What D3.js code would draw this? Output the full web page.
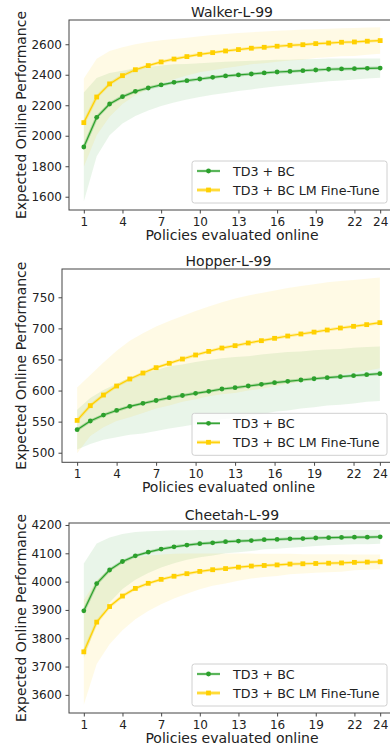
<!DOCTYPE html>
<html>
<head>
<meta charset="utf-8">
<script src="https://cdn.jsdelivr.net/npm/d3@7"></script>
<style>
  body { margin: 0; background: #fff; }
  svg { display: block; font-family: "DejaVu Sans", sans-serif; }
</style>
</head>
<body>
<div id="chart"></div>
<script>
// x categories and ticks
const policies = [1, 2, 3, 4, 5, 6, 7, 8, 9, 10, 11, 12, 13, 14, 15, 16, 17, 18, 19, 20, 21, 22, 23, 24]
const xTicks = [1, 4, 7, 10, 13, 16, 19, 22, 24]
const seriesNames = ['TD3 + BC', 'TD3 + BC LM Fine-Tune']

// Walker-L-99
const walkerYTicks = [1600, 1800, 2000, 2200, 2400, 2600]
const walkerYDomain = [1513, 2759]
const walkerTd3 = [1926, 2121, 2208, 2256, 2291, 2313, 2333, 2350, 2361, 2372, 2383, 2392, 2399, 2405, 2412, 2418, 2422, 2427, 2431, 2436, 2438, 2440, 2442, 2444]
const walkerTd3Lo = [1568, 1866, 2003, 2080, 2130, 2166, 2195, 2218, 2237, 2254, 2268, 2281, 2293, 2304, 2314, 2324, 2333, 2341, 2349, 2357, 2363, 2369, 2375, 2381]
const walkerTd3Hi = [2284, 2379, 2411, 2426, 2443, 2451, 2460, 2468, 2471, 2476, 2481, 2486, 2489, 2491, 2495, 2498, 2499, 2501, 2503, 2506, 2506, 2506, 2506, 2507]
const walkerLm = [2086, 2254, 2340, 2394, 2433, 2460, 2484, 2503, 2519, 2534, 2545, 2556, 2565, 2574, 2580, 2587, 2593, 2597, 2604, 2608, 2613, 2615, 2620, 2624]
const walkerLmLo = [1796, 2003, 2125, 2208, 2266, 2306, 2342, 2371, 2395, 2416, 2430, 2444, 2456, 2469, 2476, 2486, 2494, 2498, 2509, 2514, 2521, 2523, 2531, 2537]
const walkerLmHi = [2376, 2505, 2555, 2580, 2600, 2614, 2626, 2635, 2643, 2652, 2660, 2668, 2674, 2679, 2684, 2688, 2692, 2696, 2699, 2702, 2705, 2707, 2709, 2711]

// Hopper-L-99
const hopperYTicks = [500, 550, 600, 650, 700, 750]
const hopperYDomain = [484.6, 795.5]
const hopperTd3 = [537, 551, 560.6, 568, 574.6, 579.4, 584, 588.5, 592, 595.5, 598.7, 602.5, 604.6, 607.3, 610, 612.7, 614.8, 617, 619, 620.7, 622.3, 624, 625.5, 627.1]
const hopperTd3Lo = [505, 514, 521, 525, 529, 531, 535, 539, 542, 546, 549, 554, 556, 559, 562, 566, 568, 571, 573, 576, 577, 579, 582, 583]
const hopperTd3Hi = [569, 588, 601, 611, 621, 627, 633, 639, 642, 646, 649, 652, 654, 655, 658, 660, 662, 663, 665, 666, 667, 669, 670, 671]
const hopperLm = [552, 575.7, 592.8, 607.3, 618.6, 628.2, 636.8, 643.8, 650.7, 657.2, 663, 668.4, 672.2, 676.5, 680.2, 684, 687.7, 691, 694, 697.4, 700.6, 703.3, 706, 709.2]
const hopperLmLo = [499, 527, 541, 551, 557, 564, 571, 576, 582, 586, 591, 594, 596, 600, 603, 607, 611, 614, 617, 621, 625, 629, 632, 636]
const hopperLmHi = [605, 625, 645, 664, 680, 692, 703, 712, 720, 728, 735, 742, 748, 753, 757, 761, 765, 768, 771, 774, 776, 778, 780, 782]

// Cheetah-L-99
const cheetahYTicks = [3600, 3700, 3800, 3900, 4000, 4100, 4200]
const cheetahYDomain = [3536, 4207]
const cheetahTd3 = [3897, 3993, 4041, 4071, 4091, 4104, 4115, 4123, 4129, 4134, 4137, 4141, 4143, 4145, 4148, 4149, 4151, 4152, 4154, 4155, 4156, 4157, 4157, 4158]
const cheetahTd3Lo = [3730, 3851, 3926, 3974, 4007, 4030, 4050, 4065, 4077, 4086, 4092, 4100, 4104, 4108, 4114, 4116, 4120, 4122, 4126, 4128, 4130, 4132, 4132, 4134]
const cheetahTd3Hi = [4064, 4135, 4156, 4168, 4175, 4178, 4180, 4181, 4181, 4182, 4182, 4182, 4182, 4182, 4182, 4182, 4182, 4182, 4182, 4182, 4182, 4182, 4182, 4182]
const cheetahLm = [3752, 3857, 3912, 3949, 3976, 3994, 4008, 4019, 4028, 4036, 4042, 4046, 4051, 4055, 4057, 4059, 4062, 4063, 4064, 4065, 4066, 4068, 4069, 4070]
const cheetahLmLo = [3565, 3709, 3779, 3828, 3867, 3896, 3920, 3940, 3957, 3973, 3985, 3993, 4003, 4011, 4016, 4020, 4026, 4029, 4031, 4033, 4035, 4040, 4042, 4044]
const cheetahLmHi = [3935, 4005, 4045, 4070, 4085, 4092, 4096, 4098, 4099, 4099, 4099, 4099, 4099, 4099, 4098, 4098, 4098, 4097, 4097, 4097, 4097, 4096, 4096, 4096]

const green = '#2ca02c'
const gold = '#ffd000'

const panels = [
  { title: 'Walker-L-99', left: 69, top: 20, bottom: 210, yDomain: walkerYDomain, yTicks: walkerYTicks,
    series: [[walkerTd3, walkerTd3Lo, walkerTd3Hi], [walkerLm, walkerLmLo, walkerLmHi]] },
  { title: 'Hopper-L-99', left: 62, top: 269, bottom: 462.3, yDomain: hopperYDomain, yTicks: hopperYTicks,
    series: [[hopperTd3, hopperTd3Lo, hopperTd3Hi], [hopperLm, hopperLmLo, hopperLmHi]] },
  { title: 'Cheetah-L-99', left: 69, top: 523, bottom: 713, yDomain: cheetahYDomain, yTicks: cheetahYTicks,
    series: [[cheetahTd3, cheetahTd3Lo, cheetahTd3Hi], [cheetahLm, cheetahLmLo, cheetahLmHi]] }
]

const svg = d3.select('#chart').append('svg')
  .attr('width', 390)
  .attr('height', 746)

const colors = [green, gold]

const drawMarker = (g, idx, cx, cy) => {
  if (idx === 0) {
    g.append('circle').attr('cx', cx).attr('cy', cy).attr('r', 2.4).attr('fill', green)
  } else {
    g.append('rect').attr('x', cx - 2.4).attr('y', cy - 2.4)
      .attr('width', 4.8).attr('height', 4.8).attr('fill', gold)
  }
}

panels.forEach(p => {
  const right = 395
  const x = d3.scaleLinear().domain([-0.15, 25.15]).range([p.left, right])
  const y = d3.scaleLinear().domain(p.yDomain).range([p.bottom, p.top])
  const g = svg.append('g')

  // shaded bands
  p.series.forEach((s, si) => {
    const area = d3.area()
      .x((d, i) => x(policies[i]))
      .y0((d, i) => y(s[1][i]))
      .y1((d, i) => y(s[2][i]))
    g.append('path')
      .datum(s[0])
      .attr('d', area)
      .attr('fill', colors[si])
      .attr('fill-opacity', 0.1)
  })

  // lines + markers
  p.series.forEach((s, si) => {
    const line = d3.line().x((d, i) => x(policies[i])).y(d => y(d))
    g.append('path').datum(s[0]).attr('d', line)
      .attr('fill', 'none').attr('stroke', colors[si])
      .attr('stroke-width', 3).attr('stroke-opacity', 0.3)
    g.append('path').datum(s[0]).attr('d', line)
      .attr('fill', 'none').attr('stroke', colors[si])
      .attr('stroke-width', 1.2)
    s[0].forEach((v, i) => drawMarker(g, si, x(policies[i]), y(v)))
  })

  // axes
  const xAxis = g.append('g')
    .attr('transform', `translate(0, ${p.bottom})`)
    .call(d3.axisBottom(x).tickValues(xTicks).tickSize(3.5).tickPadding(3.5).tickFormat(d3.format('d')))
  const yAxis = g.append('g')
    .attr('transform', `translate(${p.left}, 0)`)
    .call(d3.axisLeft(y).tickValues(p.yTicks).tickSize(3.5).tickPadding(3.5).tickFormat(d3.format('d')))

  ;[xAxis, yAxis].forEach(a => {
    a.select('.domain').remove()
    a.selectAll('.tick line').attr('stroke', '#333').attr('stroke-width', 0.9)
    a.selectAll('.tick text').attr('fill', '#222').style('font-size', '12px')
      .style('font-family', '"DejaVu Sans", sans-serif')
  })

  // spines
  g.append('rect')
    .attr('x', p.left).attr('y', p.top)
    .attr('width', right - p.left).attr('height', p.bottom - p.top)
    .attr('fill', 'none').attr('stroke', '#444').attr('stroke-width', 1)

  // title and labels
  g.append('text')
    .attr('x', (p.left + right) / 2).attr('y', p.top - 3.5)
    .attr('text-anchor', 'middle').attr('fill', '#222')
    .style('font-size', '14px').text(p.title)

  g.append('text')
    .attr('x', (p.left + right) / 2).attr('y', p.bottom + 30)
    .attr('text-anchor', 'middle').attr('fill', '#222')
    .style('font-size', '14px').text('Policies evaluated online')

  g.append('text')
    .attr('transform', `translate(25.5, ${(p.top + p.bottom) / 2}) rotate(-90)`)
    .attr('text-anchor', 'middle').attr('fill', '#222')
    .style('font-size', '14px').text('Expected Online Performance')

  // legend
  const lw = 195, lh = 42
  const lx = right - 8 - lw, ly = p.bottom - 7 - lh
  const lg = g.append('g').attr('transform', `translate(${lx}, ${ly})`)
  lg.append('rect')
    .attr('width', lw).attr('height', lh).attr('rx', 2.5)
    .attr('fill', '#fff').attr('fill-opacity', 0.8)
    .attr('stroke', '#d0d0d0').attr('stroke-width', 1)
  seriesNames.forEach((name, si) => {
    const cy = 10 + si * 19
    lg.append('line').attr('x1', 5).attr('x2', 28).attr('y1', cy).attr('y2', cy)
      .attr('stroke', colors[si]).attr('stroke-width', si === 0 ? 2.5 : 3.5).attr('stroke-opacity', 0.45)
    lg.append('line').attr('x1', 5).attr('x2', 28).attr('y1', cy).attr('y2', cy)
      .attr('stroke', colors[si]).attr('stroke-width', 1.2)
    drawMarker(lg, si, 16.5, cy)
    lg.append('text').attr('x', 41).attr('y', cy + 5)
      .attr('fill', '#222').style('font-size', '12.7px').text(name)
  })
})
</script>
</body>
</html>
